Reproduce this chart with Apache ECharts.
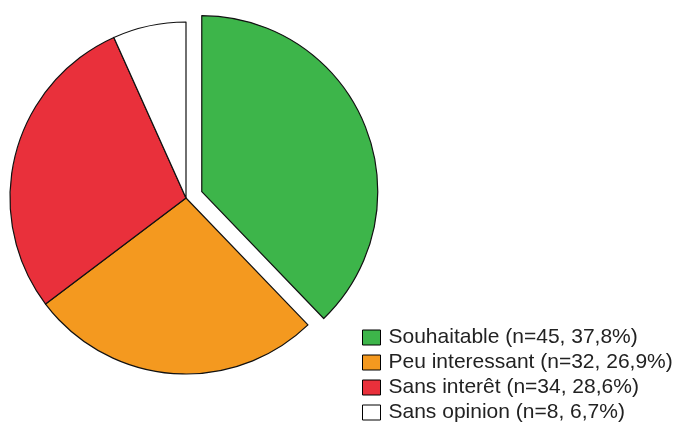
<!DOCTYPE html>
<html><head><meta charset="utf-8">
<script src="https://cdn.jsdelivr.net/npm/echarts@6/dist/echarts.min.js"></script>
<style>html,body{margin:0;padding:0;background:#fff}#c{width:685px;height:427px}</style>
</head><body><div id="c"></div>
<script>
const categories = ['Souhaitable', 'Peu interessant', 'Sans interêt', 'Sans opinion'];
const counts = [45, 32, 34, 8];
const colors = ['#3db54a', '#f4991f', '#e9303b', '#ffffff'];
const total = counts.reduce((a, b) => a + b, 0);
const pct = v => (v / total * 100).toFixed(1).replace('.', ',');
const chart = echarts.init(document.getElementById('c'), null, {renderer: 'canvas'});
const legends = categories.map((name, i) => ({
  orient: 'vertical', left: 362, top: 327 + i * 25, padding: 0,
  data: [name],
  itemWidth: 18, itemHeight: 15,
  icon: 'rect',
  itemStyle: {borderColor: '#000', borderWidth: 1},
  textStyle: {fontFamily: 'Liberation Sans', fontSize: 21, lineHeight: 15, color: '#222', padding: [0, 0, 0, 3]},
  formatter: n => n + ' (n=' + counts[i] + ', ' + pct(counts[i]) + '%)',
  selectedMode: false
}));
chart.setOption({
  animation: false,
  legend: legends,
  series: [{
    type: 'pie',
    center: [186, 198],
    radius: 176,
    startAngle: 90,
    clockwise: true,
    selectedMode: 'single',
    selectedOffset: 17,
    label: {show: false},
    labelLine: {show: false},
    emphasis: {disabled: true},
    itemStyle: {borderColor: '#111', borderWidth: 1.2},
    data: categories.map((n, i) => ({
      name: n, value: counts[i], selected: i === 0,
      itemStyle: {color: colors[i]}
    }))
  }]
});
</script></body></html>
